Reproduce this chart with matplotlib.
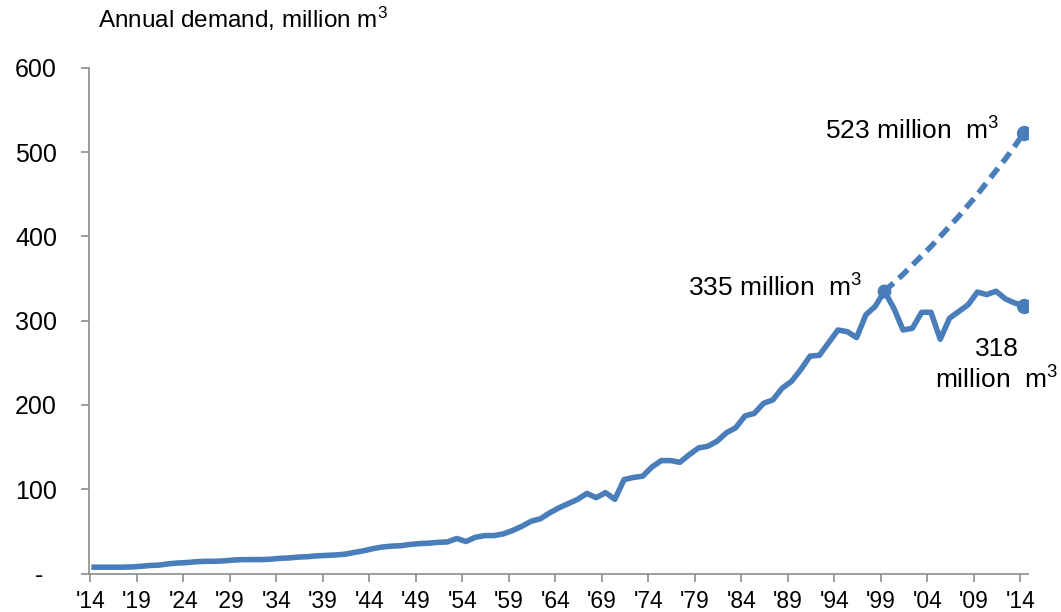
import numpy as np
import matplotlib
matplotlib.use('Agg')
import matplotlib.pyplot as plt

plt.rcParams['font.family'] = ['Liberation Sans', 'DejaVu Sans']
plt.rcParams['mathtext.fontset'] = 'custom'
plt.rcParams['mathtext.rm'] = 'Liberation Sans'
plt.rcParams['mathtext.default'] = 'regular'

# Annual demand, million m3, 1914 - 2014
years = np.arange(1914, 2015)
demand = [7.5, 7.5, 7.5, 7.5, 7.8, 8.5, 9.5, 10, 11.5, 12.5,
          13, 14, 14.5, 14.5, 15, 16, 16.5, 16.5, 16.5, 17,
          18, 18.5, 19.5, 20, 21, 21.5, 22, 23, 25, 27,
          29.5, 31.5, 32.5, 33, 34.5, 35.5, 36, 37, 37.5, 41.5,
          38, 43, 45, 45, 47, 51, 56, 62, 65, 72,
          78, 83, 88, 95, 90, 96, 88, 111.5, 114, 115.5,
          126.5, 134, 134, 132, 141, 149, 151, 157, 167, 173,
          187, 190, 202, 206, 220, 228, 242, 258, 259, 274,
          289, 287, 280, 307, 317, 335, 315, 289, 291, 310,
          310, 278, 303, 311, 319, 334, 331, 335, 326, 321,
          318]

# projected demand if growth had continued after 1999
proj_years = np.arange(1999, 2015)
projection = [335, 345, 355, 366, 377, 388, 400, 412, 424, 437,
              450, 464, 478, 492, 507, 523]

tick_years = np.arange(1914, 2015, 5)
tick_labels = ["'%02d" % (y % 100) for y in tick_years]
ytick_vals = [0, 100, 200, 300, 400, 500, 600]
ytick_labels = ['-  ', '100', '200', '300', '400', '500', '600']

blue = '#4a7ebb'
grey = '#8c8c8c'

fig = plt.figure(figsize=(10.61, 6.12), dpi=100)
ax = fig.add_axes([0.0839, 0.0629, 0.969 - 0.0839, 0.889 - 0.0629])

ax.plot(proj_years, projection, color=blue, lw=4, ls=(0, (2.2, 1.3)), solid_capstyle='butt')
ax.plot(years, demand, color=blue, lw=4, solid_joinstyle='round')
ax.plot([1999], [demand[85]], 'o', color=blue, ms=9)
ax.plot([2014], [projection[-1]], 'o', color=blue, ms=10)
ax.plot([2014], [demand[-1]], 'o', color=blue, ms=10)

ax.set_xlim(1913.45, 2014.45)
ax.set_ylim(0, 600)
ax.set_xticks(tick_years - 0.4)
ax.set_xticklabels(tick_labels)
ax.set_yticks(ytick_vals)
ax.set_yticklabels(ytick_labels)

for s in ['top', 'right']:
    ax.spines[s].set_visible(False)
for s in ['left', 'bottom']:
    ax.spines[s].set_color(grey)
    ax.spines[s].set_linewidth(1.2)
ax.tick_params(axis='both', colors=grey, length=6, width=1.2, labelcolor='black')
ax.tick_params(axis='y', pad=17, labelsize=18)
ax.tick_params(axis='x', pad=6, labelsize=16.5)

ax.text(2011.4, 515, '523 million  m$^3$', fontsize=19, ha='right', va='baseline')
ax.text(1996.6, 329, '335 million  m$^3$', fontsize=19, ha='right', va='baseline')
ax.text(2011.1, 281, '318\nmillion  m$^3$', fontsize=19, ha='center', va='top',
        linespacing=1.25)

fig.text(98 / 1061, 1 - 28 / 612, 'Annual demand, million m$^3$', fontsize=17.5, va='baseline')

plt.savefig('out.png', dpi=100)
